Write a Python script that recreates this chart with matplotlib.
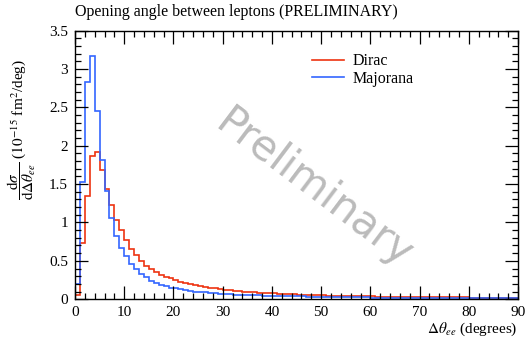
import numpy as np
import matplotlib
matplotlib.use("Agg")
import matplotlib.pyplot as plt
from matplotlib.ticker import MultipleLocator

# bin edges in degrees (1 degree bins from 0 to 90)
edges = np.arange(0, 91, 1)

# dsigma/dtheta, units of 1e-15 fm^2/deg
dirac = [
    0.05, 0.73, 1.34, 1.87, 1.92, 1.69, 1.43, 1.23, 1.03, 0.90,
    0.77, 0.66, 0.57, 0.50, 0.43, 0.39, 0.35, 0.32, 0.29, 0.27,
    0.25, 0.23, 0.21, 0.20, 0.18, 0.17, 0.16, 0.15, 0.14, 0.13,
    0.125, 0.12, 0.11, 0.105, 0.10, 0.095, 0.09, 0.085, 0.082, 0.078,
    0.075, 0.072, 0.068, 0.065, 0.062, 0.060, 0.058, 0.055, 0.053, 0.051,
    0.050, 0.048, 0.046, 0.045, 0.043, 0.042, 0.040, 0.039, 0.038, 0.037,
    0.036, 0.035, 0.034, 0.033, 0.032, 0.031, 0.031, 0.030, 0.029, 0.028,
    0.028, 0.027, 0.027, 0.026, 0.025, 0.025, 0.024, 0.024, 0.023, 0.023,
    0.022, 0.022, 0.022, 0.021, 0.021, 0.021, 0.020, 0.020, 0.020, 0.020,
]
majorana = [
    0.20, 1.53, 2.83, 3.17, 2.45, 1.82, 1.41, 1.06, 0.82, 0.67,
    0.56, 0.46, 0.39, 0.33, 0.29, 0.24, 0.21, 0.19, 0.17, 0.15,
    0.14, 0.13, 0.12, 0.11, 0.10, 0.094, 0.088, 0.082, 0.077, 0.072,
    0.068, 0.064, 0.061, 0.058, 0.055, 0.053, 0.051, 0.049, 0.047, 0.046,
    0.044, 0.042, 0.041, 0.040, 0.038, 0.037, 0.036, 0.035, 0.034, 0.033,
    0.032, 0.031, 0.030, 0.029, 0.028, 0.027, 0.026, 0.025, 0.024, 0.023,
    0.022, 0.022, 0.021, 0.021, 0.020, 0.020, 0.019, 0.019, 0.018, 0.018,
    0.017, 0.017, 0.017, 0.016, 0.016, 0.016, 0.016, 0.015, 0.015, 0.015,
    0.015, 0.015, 0.015, 0.014, 0.014, 0.014, 0.014, 0.014, 0.014, 0.014,
]

plt.rcParams['font.family'] = ['Liberation Serif', 'DejaVu Serif']
plt.rcParams['mathtext.fontset'] = 'stix'

fig = plt.figure(figsize=(5.3, 3.4), dpi=100)
ax = fig.add_axes([0.1415, 0.12, 0.836, 0.79])

ax.stairs(dirac, edges, color='#EE3311', lw=1.2, label='Dirac')
ax.stairs(majorana, edges, color='#3366FF', lw=1.2, label='Majorana')

ax.set_xlim(0, 90)
ax.set_ylim(0, 3.5)
ax.xaxis.set_major_locator(MultipleLocator(10))
ax.xaxis.set_minor_locator(MultipleLocator(2))
ax.yaxis.set_major_locator(MultipleLocator(0.5))
ax.yaxis.set_minor_locator(MultipleLocator(0.1))
ax.yaxis.set_major_formatter(plt.FuncFormatter(lambda v, p: f"{v:g}"))
ax.tick_params(which='both', direction='in', top=True, right=True, labelsize=11)
ax.tick_params(which='major', length=9.5, width=0.9, pad=5)
ax.tick_params(which='minor', length=4.5, width=0.9)
for s in ax.spines.values():
    s.set_linewidth(1.0)

fig.text(0.1415, 0.94, 'Opening angle between leptons (PRELIMINARY)',
         fontsize=11.5, ha='left', va='bottom')
fig.text(0.04, 0.825,
         r'$\dfrac{\mathrm{d}\sigma}{\mathrm{d}\Delta\theta_{ee}}$ ($10^{-15}$ fm$^2$/deg)',
         rotation=90, fontsize=11, ha='center', va='top')
fig.text(0.977, 0.005, r'$\Delta\theta_{ee}$ (degrees)',
         fontsize=11, ha='right', va='bottom')

ax.legend(loc='upper right', bbox_to_anchor=(0.78, 0.94), frameon=False,
          fontsize=11.5, handlelength=2.0, handletextpad=0.6,
          labelspacing=0.1, borderaxespad=0)

ax.text(0.54, 0.41, 'Preliminary', transform=ax.transAxes, rotation=-37,
        fontsize=30, color='#bbbbbb', family='DejaVu Sans',
        ha='center', va='center', zorder=0)

fig.savefig('out.png', dpi=100)
